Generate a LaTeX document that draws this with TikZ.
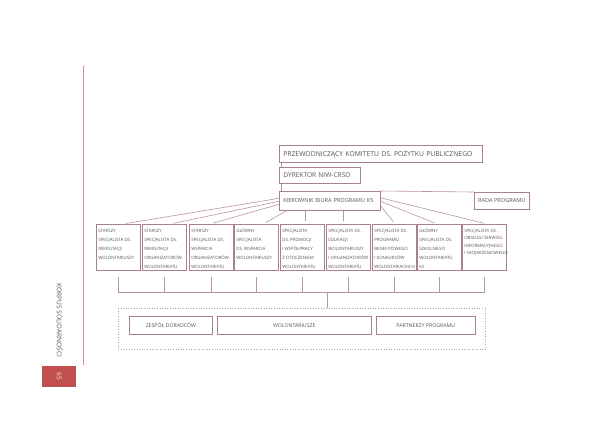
\documentclass[tikz,border=0pt]{standalone}
\usepackage{fontspec}
\setmainfont{Open Sans}
\definecolor{boxc}{HTML}{A98288}
\definecolor{linec}{HTML}{B8959A}
\definecolor{txtc}{HTML}{555555}
\definecolor{sidec}{HTML}{D9898C}
\definecolor{pagec}{HTML}{C0504D}
\newcommand{\cell}[2][8.8pt]{\parbox[t][41pt][t]{39.5pt}{\fontsize{4.4}{#1}\selectfont
  \def\arraystretch{1}%
  \begin{tabular}[t]{@{}l@{}}#2\end{tabular}}}
\begin{document}
\begin{tikzpicture}[x=1pt,y=-1pt,
  topbox/.style={draw=boxc, line width=0.6pt, anchor=north west, text=txtc,
    inner xsep=4pt, inner ysep=0pt, align=left},
  cellbox/.style={draw=boxc, line width=0.6pt, anchor=north west, text=txtc,
    inner xsep=2pt, inner ysep=2.5pt},
  lowbox/.style={draw=boxc, line width=0.6pt, anchor=north west, text=txtc,
    inner sep=0pt, font=\fontsize{5.2}{6}\selectfont},
  conn/.style={draw=linec, line width=0.6pt}]
\useasboundingbox (0,0) rectangle (600,424);
% side decoration
\draw[sidec, line width=0.8pt] (83,66) -- (83,365);
\node[rotate=-90, anchor=west, text=txtc, font=\fontsize{6.6}{7}\selectfont, inner sep=0pt] (korpus) at (60,283) {KORPUS SOLIDARNOŚCI};
\node[fill=pagec, anchor=north west, minimum width=34pt, minimum height=21pt, inner sep=0pt] (page) at (42,366) {};
\node[rotate=-90, text=white!90!pagec, font=\fontsize{6.5}{7}\selectfont] (pagenum) at (page.center) {65};
% top boxes
\node[topbox, text width=195pt, minimum height=17pt, font=\fontsize{6.8}{8}\selectfont] (P) at (279,145) {PRZEWODNICZĄCY KOMITETU DS. POŻYTKU PUBLICZNEGO};
\node[topbox, text width=73pt, minimum height=16pt, font=\fontsize{6.6}{8}\selectfont] (D) at (279,167) {DYREKTOR NIW-CRSO};
\node[topbox, text width=93pt, minimum height=19pt, font=\fontsize{5.6}{7}\selectfont] (K) at (279,191) {KIEROWNIK BIURA PROGRAMU KS};
\node[draw=boxc, line width=0.6pt, anchor=north west, text=txtc, inner sep=0pt,
  minimum width=55pt, minimum height=17pt, font=\fontsize{5.6}{7}\selectfont] (R) at (474,192) {RADA PROGRAMU};
% cells
\node[cellbox] (b1) at (96,224) {\cell{STARSZY\\SPECJALISTA DS.\\REKRUTACJI\\WOLONTARIUSZY}};
\node[cellbox] (b2) at (142,224) {\cell{STARSZY\\SPECJALISTA DS.\\REKRUTACJI\\ORGANIZATORÓW\\WOLONTARIATU}};
\node[cellbox] (b3) at (189,224) {\cell{STARSZY\\SPECJALISTA DS.\\WSPARCIA\\ORGANIZATORÓW\\WOLONTARIATU}};
\node[cellbox] (b4) at (234,224) {\cell{GŁÓWNY\\SPECJALISTA\\DS. WSPARCIA\\WOLONTARIUSZY}};
\node[cellbox] (b5) at (280,224) {\cell{SPECJALISTA\\DS. PROMOCJI\\I WSPÓŁPRACY\\Z OTOCZENIEM\\WOLONTARIATU}};
\node[cellbox] (b6) at (326,224) {\cell{SPECJALISTA DS.\\EDUKACJI\\WOLONTARIUSZY\\I ORGANIZATORÓW\\WOLONTARIATU}};
\node[cellbox] (b7) at (372,224) {\cell{SPECJALISTA DS.\\PROGRAMU\\BENEFITOWEGO\\I KONKURSÓW\\WOLONTARIACKICH}};
\node[cellbox] (b8) at (417,224) {\cell{GŁÓWNY\\SPECJALISTA DS.\\SZKOLNEGO\\WOLONTARIATU\\KS}};
\node[cellbox] (b9) at (462,224) {\cell[7.6pt]{SPECJALISTA DS.\\OBSŁUGI SERWISU\\INFORMACYJNEGO\\I SKOJARZENIOWEGO}};
% top connectors
\draw[conn] ([xshift=2pt]P.south west) -- ([xshift=2pt]D.north west);
\draw[conn] ([xshift=2pt]D.south west) -- ([xshift=2pt]K.north west);
\draw[conn] (K.north east) -- (R.north west);
% fan
\draw[conn, shorten >=3pt] ([yshift=2.5pt]K.west) -- ([xshift=5pt]b1.north);
\draw[conn, shorten >=3pt] ([yshift=-0.5pt]K.west) -- ([xshift=6pt]b2.north);
\draw[conn, shorten >=3pt] ([yshift=-3.5pt]K.west) -- ([xshift=-1pt]b3.north);
\draw[conn, shorten >=3pt] ([xshift=8pt]K.south west) -- ([xshift=7pt]b4.north);
\draw[conn, shorten >=3pt] ([xshift=3.5pt]b5.north |- K.south) -- ([xshift=3.5pt]b5.north);
\draw[conn, shorten >=3pt] ([xshift=-4.5pt]b6.north |- K.south) -- ([xshift=-4.5pt]b6.north);
\draw[conn, shorten >=3pt] ([yshift=-5pt]K.east) -- ([xshift=1pt]b7.north);
\draw[conn, shorten >=3pt] ([yshift=-0.5pt]K.east) -- ([xshift=-2pt]b8.north);
\draw[conn, shorten >=3pt] ([yshift=3pt]K.east) -- ([xshift=3pt]b9.north);
% bottom bus
\coordinate (hl) at (0,292);
\coordinate (hm) at (327,292);
\draw[conn] ([yshift=-6pt]b1.south) -- (b1.south |- hl) -- (b9.south |- hl) -- ([yshift=-6pt]b9.south);
\foreach \b in {b2,b3,b4,b5,b6,b7,b8}{
  \draw[conn] ([yshift=-6pt]\b.south) -- (\b.south |- hl);
}
% group
\node[draw=gray!70, dotted, line width=0.6pt, anchor=north west, minimum width=367pt, minimum height=41pt, inner sep=0pt] (grp) at (118,308) {};
\draw[conn] (hm) -- (hm |- grp.north);
\node[lowbox, minimum width=83pt, minimum height=18pt] (z) at (129,316) {ZESPÓŁ DORADCÓW};
\node[lowbox, minimum width=154pt, minimum height=18pt] (w) at (217,316) {WOLONTARIUSZE};
\node[lowbox, minimum width=99pt, minimum height=18pt] (pp) at (376,316) {PARTNERZY PROGRAMU};
\end{tikzpicture}
\end{document}
